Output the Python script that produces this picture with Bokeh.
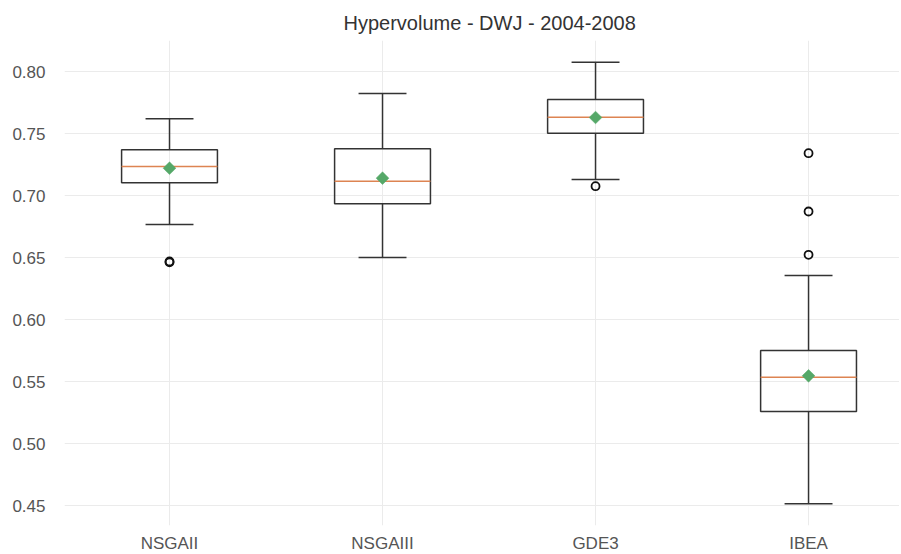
import math
from bokeh.plotting import figure
from bokeh.models import FixedTicker, NumeralTickFormatter, ColumnDataSource
from bokeh.embed import file_html
from bokeh.resources import INLINE

# ---- data ----
categories = ["NSGAII", "NSGAIII", "GDE3", "IBEA"]
whisker_low = [0.6766, 0.6500, 0.7129, 0.4514]
q1 = [0.7102, 0.6933, 0.7502, 0.5258]
median = [0.7234, 0.7115, 0.7632, 0.5535]
q3 = [0.7369, 0.7377, 0.7774, 0.5750]
whisker_high = [0.7619, 0.7823, 0.8075, 0.6355]
means = [0.7220, 0.7140, 0.7629, 0.5546]
outliers = [[0.6468, 0.6462], [], [0.7075], [0.7341, 0.6871, 0.6522]]
y_ticks = [0.45, 0.50, 0.55, 0.60, 0.65, 0.70, 0.75, 0.80]

box_width = 0.45
positions = list(range(1, len(categories) + 1))

src = ColumnDataSource(dict(
    x=positions,
    left=[x - box_width / 2 for x in positions],
    right=[x + box_width / 2 for x in positions],
    capl=[x - box_width / 4 for x in positions],
    capr=[x + box_width / 4 for x in positions],
    wlo=whisker_low, q1=q1, med=median, q3=q3, whi=whisker_high, mean=means,
))

fx, fy = [], []
for x, outs in zip(positions, outliers):
    for v in outs:
        fx.append(x)
        fy.append(v)

FONT = "Liberation Sans"

p = figure(
    width=899, height=554,
    frame_width=835, frame_height=485,
    x_range=(0.507, 4.427), y_range=(0.4339, 0.825),
    output_backend="svg", toolbar_location=None,
    title="Hypervolume - DWJ - 2004-2008",
    min_border_left=64, min_border_right=0, min_border_top=40, min_border_bottom=29,
)
p.outline_line_color = None
p.background_fill_color = "white"
p.border_fill_color = "white"

p.title.align = "left"
p.title.offset = 279
p.title.standoff = 13
p.title.text_font = FONT
p.title.text_font_size = "20px"
p.title.text_font_style = "normal"
p.title.text_color = "#333333"

# grids
for g in (p.xgrid, p.ygrid):
    g.grid_line_color = "#ebebeb"
    g.grid_line_width = 1
p.xaxis.ticker = FixedTicker(ticks=positions)
p.yaxis.ticker = FixedTicker(ticks=y_ticks)
p.xaxis.major_label_overrides = {x: c for x, c in zip(positions, categories)}
p.yaxis.formatter = NumeralTickFormatter(format="0.00")

for ax in (p.xaxis[0], p.yaxis[0]):
    ax.axis_line_color = None
    ax.major_tick_line_color = None
    ax.minor_tick_line_color = None
    ax.major_tick_out = 0
    ax.major_tick_in = 0
    ax.minor_tick_out = 0
    ax.major_label_text_font = FONT
    ax.major_label_text_font_size = "17px"
    ax.major_label_text_color = "#555555"
p.yaxis.major_label_standoff = 19
p.xaxis.major_label_standoff = 8

line_col = "#333333"
# whiskers
p.segment(x0="x", y0="wlo", x1="x", y1="q1", source=src, line_color=line_col, line_width=1.5)
p.segment(x0="x", y0="q3", x1="x", y1="whi", source=src, line_color=line_col, line_width=1.5)
# caps
p.segment(x0="capl", y0="wlo", x1="capr", y1="wlo", source=src, line_color=line_col, line_width=1.5)
p.segment(x0="capl", y0="whi", x1="capr", y1="whi", source=src, line_color=line_col, line_width=1.5)
# boxes
p.quad(left="left", right="right", bottom="q1", top="q3", source=src,
       fill_color=None, line_color=line_col, line_width=1.5)
# medians
p.segment(x0="left", y0="med", x1="right", y1="med", source=src, line_color="#dd8452", line_width=1.5)
# means (matplotlib-style "D" marker: rotated square)
p.scatter(x="x", y="mean", source=src, marker="square", size=9, angle=math.pi / 4,
          fill_color="#55a868", line_color="#55a868", line_width=0.5)
# fliers
p.scatter(x=fx, y=fy, marker="circle", size=8, fill_color=None,
          line_color="#111111", line_width=1.8)

open("out.html", "w").write(file_html(p, INLINE))
